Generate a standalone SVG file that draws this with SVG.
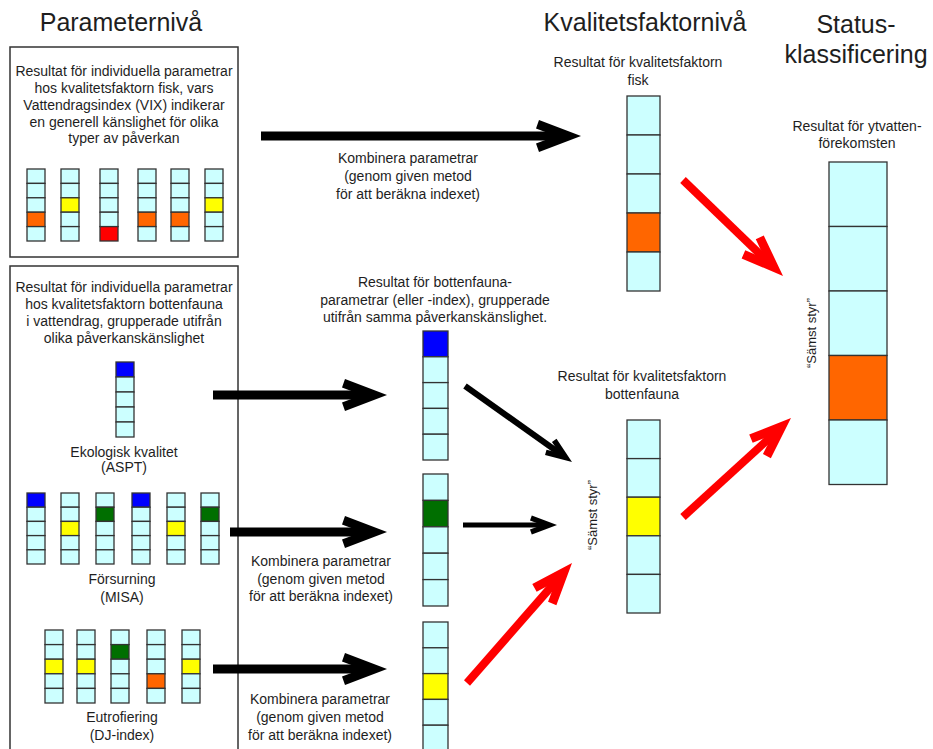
<svg xmlns="http://www.w3.org/2000/svg" xmlns:xlink="http://www.w3.org/1999/xlink" width="933" height="749" viewBox="0 0 933 749">
<style>
text{font-family:"Liberation Sans",Arial,sans-serif;fill:#1e1e1e;text-anchor:middle}
.h{font-size:25px}
.t{font-size:14px}
.r{font-size:13px}
.box{fill:#fff;stroke:#333;stroke-width:1.5}
rect.c{fill:#ccffff;stroke:#333;stroke-width:1.3}
rect.b{fill:#0000ff;stroke:#333;stroke-width:1.3}
rect.g{fill:#006f00;stroke:#333;stroke-width:1.3}
rect.y{fill:#ffff00;stroke:#333;stroke-width:1.3}
rect.o{fill:#ff6600;stroke:#333;stroke-width:1.3}
rect.d{fill:#ff0000;stroke:#333;stroke-width:1.3}
.sk{stroke:#000;fill:none}
.sr{stroke:#ff0000;fill:none}
</style>
<defs>
<path id="head" d="M0,0 L-42,-16 L-45,-7.6 L-25,0 L-45,7.6 L-42,16 Z"/>
</defs>
<rect width="933" height="749" fill="#fff"/>

<g id="headings">
<text class="h" x="121" y="31">Parameternivå</text>
<text class="h" x="645" y="31">Kvalitetsfaktornivå</text>
<text class="h" x="856" y="33">Status-</text>
<text class="h" x="856" y="63">klassificering</text>
</g>

<g id="box-fisk">
<rect class="box" x="10" y="47" width="228" height="210"/>
<text class="t" x="124" y="76">Resultat för individuella parametrar</text>
<text class="t" x="124" y="93">hos kvalitetsfaktorn fisk, vars</text>
<text class="t" x="124" y="110">Vattendragsindex (VIX) indikerar</text>
<text class="t" x="124" y="127">en generell känslighet för olika</text>
<text class="t" x="124" y="143">typer av påverkan</text>
<g id="fisk-bars">
<rect class="c" x="27" y="169" width="18" height="14.4"/><rect class="c" x="27" y="183.4" width="18" height="14.4"/><rect class="c" x="27" y="197.8" width="18" height="14.4"/><rect class="o" x="27" y="212.2" width="18" height="14.4"/><rect class="c" x="27" y="226.6" width="18" height="14.4"/>
<rect class="c" x="61" y="169" width="18" height="14.4"/><rect class="c" x="61" y="183.4" width="18" height="14.4"/><rect class="y" x="61" y="197.8" width="18" height="14.4"/><rect class="c" x="61" y="212.2" width="18" height="14.4"/><rect class="c" x="61" y="226.6" width="18" height="14.4"/>
<rect class="c" x="100" y="169" width="18" height="14.4"/><rect class="c" x="100" y="183.4" width="18" height="14.4"/><rect class="c" x="100" y="197.8" width="18" height="14.4"/><rect class="c" x="100" y="212.2" width="18" height="14.4"/><rect class="d" x="100" y="226.6" width="18" height="14.4"/>
<rect class="c" x="138" y="169" width="18" height="14.4"/><rect class="c" x="138" y="183.4" width="18" height="14.4"/><rect class="c" x="138" y="197.8" width="18" height="14.4"/><rect class="o" x="138" y="212.2" width="18" height="14.4"/><rect class="c" x="138" y="226.6" width="18" height="14.4"/>
<rect class="c" x="171" y="169" width="18" height="14.4"/><rect class="c" x="171" y="183.4" width="18" height="14.4"/><rect class="c" x="171" y="197.8" width="18" height="14.4"/><rect class="o" x="171" y="212.2" width="18" height="14.4"/><rect class="c" x="171" y="226.6" width="18" height="14.4"/>
<rect class="c" x="205" y="169" width="18" height="14.4"/><rect class="c" x="205" y="183.4" width="18" height="14.4"/><rect class="y" x="205" y="197.8" width="18" height="14.4"/><rect class="c" x="205" y="212.2" width="18" height="14.4"/><rect class="c" x="205" y="226.6" width="18" height="14.4"/>
</g>
</g>

<g id="box-bottenfauna">
<rect class="box" x="10" y="266" width="228" height="500"/>
<text class="t" x="124" y="292">Resultat för individuella parametrar</text>
<text class="t" x="124" y="309">hos kvalitetsfaktorn bottenfauna</text>
<text class="t" x="124" y="326">i vattendrag, grupperade utifrån</text>
<text class="t" x="124" y="343">olika påverkanskänslighet</text>
<g id="aspt">
<rect class="b" x="116" y="362" width="18" height="15"/><rect class="c" x="116" y="377" width="18" height="15"/><rect class="c" x="116" y="392" width="18" height="15"/><rect class="c" x="116" y="407" width="18" height="15"/><rect class="c" x="116" y="422" width="18" height="15"/>
<text class="t" x="124" y="457">Ekologisk kvalitet</text>
<text class="t" x="124" y="472">(ASPT)</text>
</g>
<g id="misa">
<rect class="b" x="27" y="493" width="18" height="14.2"/><rect class="c" x="27" y="507.2" width="18" height="14.2"/><rect class="c" x="27" y="521.4" width="18" height="14.2"/><rect class="c" x="27" y="535.6" width="18" height="14.2"/><rect class="c" x="27" y="549.8" width="18" height="14.2"/>
<rect class="c" x="61" y="493" width="18" height="14.2"/><rect class="c" x="61" y="507.2" width="18" height="14.2"/><rect class="y" x="61" y="521.4" width="18" height="14.2"/><rect class="c" x="61" y="535.6" width="18" height="14.2"/><rect class="c" x="61" y="549.8" width="18" height="14.2"/>
<rect class="c" x="96" y="493" width="18" height="14.2"/><rect class="g" x="96" y="507.2" width="18" height="14.2"/><rect class="c" x="96" y="521.4" width="18" height="14.2"/><rect class="c" x="96" y="535.6" width="18" height="14.2"/><rect class="c" x="96" y="549.8" width="18" height="14.2"/>
<rect class="b" x="132" y="493" width="18" height="14.2"/><rect class="c" x="132" y="507.2" width="18" height="14.2"/><rect class="c" x="132" y="521.4" width="18" height="14.2"/><rect class="c" x="132" y="535.6" width="18" height="14.2"/><rect class="c" x="132" y="549.8" width="18" height="14.2"/>
<rect class="c" x="167" y="493" width="18" height="14.2"/><rect class="c" x="167" y="507.2" width="18" height="14.2"/><rect class="y" x="167" y="521.4" width="18" height="14.2"/><rect class="c" x="167" y="535.6" width="18" height="14.2"/><rect class="c" x="167" y="549.8" width="18" height="14.2"/>
<rect class="c" x="201" y="493" width="18" height="14.2"/><rect class="g" x="201" y="507.2" width="18" height="14.2"/><rect class="c" x="201" y="521.4" width="18" height="14.2"/><rect class="c" x="201" y="535.6" width="18" height="14.2"/><rect class="c" x="201" y="549.8" width="18" height="14.2"/>
<text class="t" x="122" y="584">Försurning</text>
<text class="t" x="122" y="602">(MISA)</text>
</g>
<g id="dj">
<rect class="c" x="45" y="630" width="18" height="14.6"/><rect class="c" x="45" y="644.6" width="18" height="14.6"/><rect class="y" x="45" y="659.2" width="18" height="14.6"/><rect class="c" x="45" y="673.8" width="18" height="14.6"/><rect class="c" x="45" y="688.4" width="18" height="14.6"/>
<rect class="c" x="77" y="630" width="18" height="14.6"/><rect class="c" x="77" y="644.6" width="18" height="14.6"/><rect class="y" x="77" y="659.2" width="18" height="14.6"/><rect class="c" x="77" y="673.8" width="18" height="14.6"/><rect class="c" x="77" y="688.4" width="18" height="14.6"/>
<rect class="c" x="111" y="630" width="18" height="14.6"/><rect class="g" x="111" y="644.6" width="18" height="14.6"/><rect class="c" x="111" y="659.2" width="18" height="14.6"/><rect class="c" x="111" y="673.8" width="18" height="14.6"/><rect class="c" x="111" y="688.4" width="18" height="14.6"/>
<rect class="c" x="147" y="630" width="18" height="14.6"/><rect class="c" x="147" y="644.6" width="18" height="14.6"/><rect class="c" x="147" y="659.2" width="18" height="14.6"/><rect class="o" x="147" y="673.8" width="18" height="14.6"/><rect class="c" x="147" y="688.4" width="18" height="14.6"/>
<rect class="c" x="182" y="630" width="18" height="14.6"/><rect class="c" x="182" y="644.6" width="18" height="14.6"/><rect class="y" x="182" y="659.2" width="18" height="14.6"/><rect class="c" x="182" y="673.8" width="18" height="14.6"/><rect class="c" x="182" y="688.4" width="18" height="14.6"/>
<text class="t" x="122" y="722">Eutrofiering</text>
<text class="t" x="122" y="740">(DJ-index)</text>
</g>
</g>

<g id="bf-params">
<text class="t" x="435" y="287">Resultat för bottenfauna-</text>
<text class="t" x="435" y="305">parametrar (eller -index), grupperade</text>
<text class="t" x="435" y="322">utifrån samma påverkanskänslighet.</text>
<g id="col-aspt">
<rect class="b" x="423" y="331" width="25" height="25.8"/><rect class="c" x="423" y="356.8" width="25" height="25.8"/><rect class="c" x="423" y="382.6" width="25" height="25.8"/><rect class="c" x="423" y="408.4" width="25" height="25.8"/><rect class="c" x="423" y="434.2" width="25" height="25.8"/>
</g>
<g id="col-misa">
<rect class="c" x="423" y="474" width="25" height="26.4"/><rect class="g" x="423" y="500.4" width="25" height="26.4"/><rect class="c" x="423" y="526.8" width="25" height="26.4"/><rect class="c" x="423" y="553.2" width="25" height="26.4"/><rect class="c" x="423" y="579.6" width="25" height="26.4"/>
</g>
<g id="col-dj">
<rect class="c" x="423" y="622" width="25" height="25.8"/><rect class="c" x="423" y="647.8" width="25" height="25.8"/><rect class="y" x="423" y="673.6" width="25" height="25.8"/><rect class="c" x="423" y="699.4" width="25" height="25.8"/><rect class="c" x="423" y="725.2" width="25" height="25.8"/>
</g>
</g>

<g id="kf-fisk">
<text class="t" x="638" y="67">Resultat för kvalitetsfaktorn</text>
<text class="t" x="638" y="85">fisk</text>
<rect class="c" x="627" y="96" width="33" height="39"/><rect class="c" x="627" y="135" width="33" height="39"/><rect class="c" x="627" y="174" width="33" height="39"/><rect class="o" x="627" y="213" width="33" height="39"/><rect class="c" x="627" y="252" width="33" height="39"/>
</g>

<g id="kf-bottenfauna">
<text class="t" x="642" y="381">Resultat för kvalitetsfaktorn</text>
<text class="t" x="642" y="399">bottenfauna</text>
<rect class="c" x="627" y="420" width="33" height="38.6"/><rect class="c" x="627" y="458.6" width="33" height="38.6"/><rect class="y" x="627" y="497.2" width="33" height="38.6"/><rect class="c" x="627" y="535.8" width="33" height="38.6"/><rect class="c" x="627" y="574.4" width="33" height="38.6"/>
</g>

<g id="status">
<text class="t" x="857" y="131">Resultat för ytvatten-</text>
<text class="t" x="857" y="148">förekomsten</text>
<rect class="c" x="829" y="162" width="58" height="64.5"/><rect class="c" x="829" y="226.5" width="58" height="64.5"/><rect class="c" x="829" y="291" width="58" height="64.5"/><rect class="o" x="829" y="355.5" width="58" height="64.5"/><rect class="c" x="829" y="420" width="58" height="64.5"/>
</g>

<g id="connectors">
<line class="sk" x1="261" y1="136" x2="560" y2="136" stroke-width="9"/>
<use xlink:href="#head" href="#head" fill="#000" transform="translate(581,136)"/>
<text class="t" x="408" y="163">Kombinera parametrar</text>
<text class="t" x="408" y="181">(genom given metod</text>
<text class="t" x="408" y="199">för att beräkna indexet)</text>

<line class="sk" x1="213" y1="395" x2="365" y2="395" stroke-width="9"/>
<use xlink:href="#head" href="#head" fill="#000" transform="translate(387,395)"/>

<line class="sk" x1="230" y1="532" x2="365" y2="532" stroke-width="9"/>
<use xlink:href="#head" href="#head" fill="#000" transform="translate(387,532)"/>
<text class="t" x="321" y="566">Kombinera parametrar</text>
<text class="t" x="321" y="584">(genom given metod</text>
<text class="t" x="321" y="601">för att beräkna indexet)</text>

<line class="sk" x1="213" y1="669" x2="365" y2="669" stroke-width="9"/>
<use xlink:href="#head" href="#head" fill="#000" transform="translate(387,669)"/>
<text class="t" x="320" y="704">Kombinera parametrar</text>
<text class="t" x="320" y="722">(genom given metod</text>
<text class="t" x="320" y="740">för att beräkna indexet)</text>

<line class="sk" x1="465" y1="386" x2="560" y2="453.5" stroke-width="6"/>
<use xlink:href="#head" href="#head" fill="#000" transform="translate(572,462) rotate(35.4) scale(0.62)"/>

<line class="sk" x1="463" y1="525" x2="544" y2="525" stroke-width="5"/>
<use xlink:href="#head" href="#head" fill="#000" transform="translate(557,525) scale(0.6)"/>

<line class="sr" x1="467" y1="683" x2="557.5" y2="579.5" stroke-width="8"/>
<use xlink:href="#head" href="#head" fill="#ff0000" transform="translate(572,563) rotate(-48.8)"/>

<line class="sr" x1="683" y1="180" x2="767" y2="261" stroke-width="8"/>
<use xlink:href="#head" href="#head" fill="#ff0000" transform="translate(783,276) rotate(43.8)"/>

<line class="sr" x1="683" y1="517" x2="775" y2="433" stroke-width="8"/>
<use xlink:href="#head" href="#head" fill="#ff0000" transform="translate(791,418) rotate(-42.5)"/>

<text class="r" transform="translate(597,515) rotate(-90)">“Sämst styr”</text>
<text class="r" transform="translate(816,333) rotate(-90)">“Sämst styr”</text>
</g>
</svg>
